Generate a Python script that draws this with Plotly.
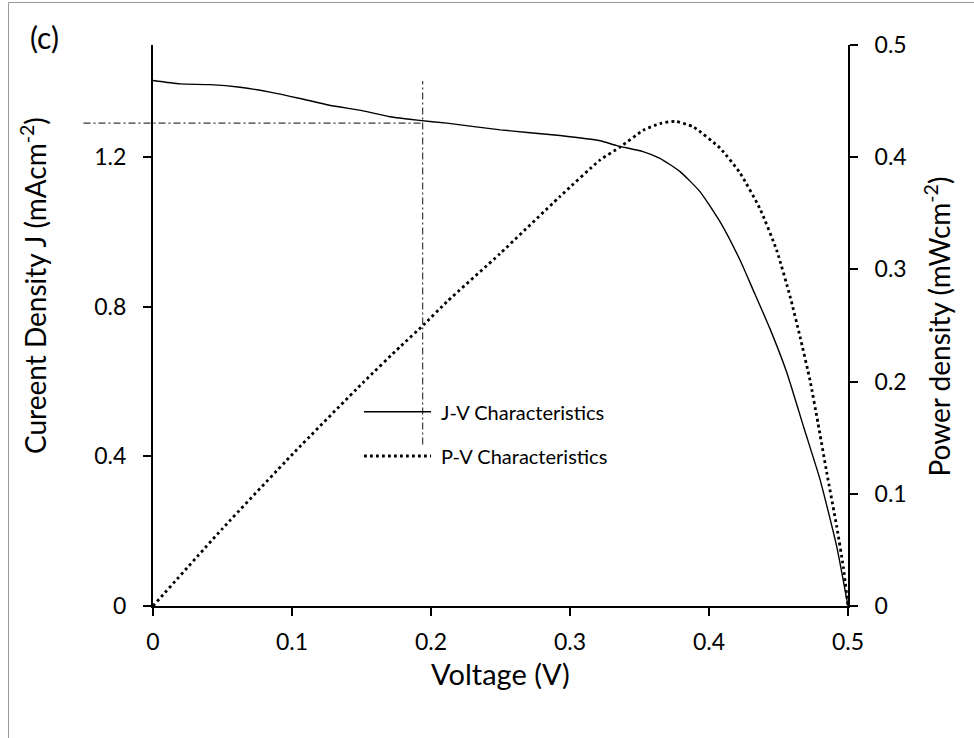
import plotly.graph_objects as go

# ---- measured J-V characteristic (voltage in V, current density in mA/cm^2)
jv_voltage = [0.0, 0.0194, 0.041, 0.0626, 0.0842, 0.1058, 0.127, 0.151, 0.1705,
              0.19, 0.2115, 0.25, 0.2928, 0.3216, 0.3336, 0.3525, 0.3647, 0.379,
              0.3935, 0.408, 0.4223, 0.4314, 0.4439, 0.4559, 0.4686,
              0.4799, 0.4919, 0.5]
jv_current = [1.405, 1.396, 1.394, 1.387, 1.374, 1.357, 1.339, 1.324, 1.308,
              1.299, 1.291, 1.273, 1.258, 1.244, 1.231, 1.215, 1.197, 1.162,
              1.108, 1.027, 0.925, 0.848, 0.741, 0.625, 0.4725,
              0.338, 0.159, 0.0]

# ---- measured P-V characteristic (voltage in V, power density in mW/cm^2)
pv_voltage = [0.0, 0.05, 0.1009, 0.151, 0.1777, 0.1945, 0.2113, 0.2496, 0.2928,
              0.3216, 0.336, 0.3527, 0.3647, 0.3755, 0.3887, 0.408,
              0.4223, 0.4367, 0.4487, 0.4583, 0.4655, 0.4727, 0.4784, 0.4847,
              0.4919, 0.4966, 0.5]
pv_power = [0.0, 0.069, 0.136, 0.199, 0.231, 0.2504, 0.271, 0.314, 0.365,
            0.3975, 0.409, 0.424, 0.430, 0.432, 0.427, 0.408,
            0.386, 0.354, 0.317, 0.276, 0.240, 0.201, 0.163, 0.119,
            0.0707, 0.035, 0.0]

# ---- reference marker lines (operating point)
v_marker = 0.194
j_marker = 1.291
v_marker_left = -0.05
j_marker_span = [0.432, 1.404]

# ---- axis settings
x_range = [0, 0.5]
x_ticks = [0, 0.1, 0.2, 0.3, 0.4, 0.5]
x_ticktext = ["0", "0.1", "0.2", "0.3", "0.4", "0.5"]
j_range = [0, 1.5]
j_ticks = [0, 0.4, 0.8, 1.2]
j_ticktext = ["0", "0.4", "0.8", "1.2"]
p_range = [0, 0.5]
p_ticks = [0, 0.1, 0.2, 0.3, 0.4, 0.5]
p_ticktext = ["0", "0.1", "0.2", "0.3", "0.4", "0.5"]

series_names = ["J-V Characteristics", "P-V Characteristics"]
x_title = "Voltage (V)"
j_title = "Cureent Density J (mAcm<sup>-2</sup>)"
p_title = "Power density (mWcm<sup>-2</sup>)"
panel_label = "(c)"

FONT = "Lato, 'Open Sans', sans-serif"
W, H = 974, 738
L, R, T, B = 153, 126, 45, 132
PW, PH = W - L - R, H - T - B


def px_x(px):
    return (px - L) / PW


def px_y(py):
    return (H - B - py) / PH


fig = go.Figure()

fig.add_trace(go.Scatter(
    x=jv_voltage, y=jv_current, name=series_names[0], mode="lines",
    line=dict(color="black", width=1.4, shape="spline", smoothing=0.5),
    yaxis="y", showlegend=False,
))
fig.add_trace(go.Scatter(
    x=pv_voltage, y=pv_power, name=series_names[1], mode="lines",
    line=dict(color="black", width=2.8, dash="2.8px,3.2px",
              shape="spline", smoothing=0.5),
    yaxis="y2", showlegend=False,
))

axis_common = dict(
    showline=True, linecolor="black", linewidth=2,
    ticks="outside", ticklen=8, tickwidth=1.5, tickcolor="black",
    showgrid=False, zeroline=False,
    tickfont=dict(family=FONT, size=23, color="black"),
)

fig.update_layout(
    width=W, height=H, autosize=False,
    margin=dict(l=L, r=R, t=T, b=B, pad=0),
    paper_bgcolor="white", plot_bgcolor="white",
    font=dict(family=FONT, color="black"),
    xaxis=dict(range=x_range, tickvals=x_ticks, ticktext=x_ticktext,
               ticklabelstandoff=6, **axis_common),
    yaxis=dict(range=j_range, tickvals=j_ticks, ticktext=j_ticktext,
               ticklabelstandoff=12, **axis_common),
    yaxis2=dict(range=p_range, tickvals=p_ticks, ticktext=p_ticktext,
                overlaying="y", side="right", anchor="x",
                ticklabelstandoff=12, **axis_common),
    showlegend=False,
)

# operating-point guide lines
guide = dict(color="#3a3a3a", width=1.2, dash="7px,3px,2px,3px")
fig.add_shape(type="line", xref="paper", yref="y",
              x0=v_marker_left / x_range[1], x1=v_marker / x_range[1],
              y0=j_marker, y1=j_marker, line=guide, layer="above")
fig.add_shape(type="line", xref="x", yref="y",
              x0=v_marker, x1=v_marker,
              y0=j_marker_span[0], y1=j_marker_span[1], line=guide, layer="above")

# outer frame (partly visible)
frame = dict(color="#9a9a9a", width=1)
fig.add_shape(type="line", xref="paper", yref="paper",
              x0=px_x(8.5), x1=px_x(W + 5), y0=px_y(2.5), y1=px_y(2.5), line=frame)
fig.add_shape(type="line", xref="paper", yref="paper",
              x0=px_x(8.5), x1=px_x(8.5), y0=px_y(2.5), y1=px_y(H + 5), line=frame)

# legend drawn inside the plot
leg_rows = [(411.7, dict(color="black", width=1.4)),
            (456.0, dict(color="black", width=2.8, dash="2.8px,3.2px"))]
for (ypx, style), name in zip(leg_rows, series_names):
    fig.add_shape(type="line", xref="paper", yref="paper",
                  x0=px_x(364), x1=px_x(431), y0=px_y(ypx), y1=px_y(ypx),
                  line=style)
    fig.add_annotation(text=name, xref="paper", yref="paper",
                       x=px_x(439), y=px_y(ypx), xanchor="left", yanchor="middle",
                       showarrow=False, font=dict(family=FONT, size=20, color="black"))

# axis titles and panel label
fig.add_annotation(text=x_title, xref="paper", yref="paper",
                   x=0.5, y=px_y(674), xanchor="center", yanchor="middle",
                   showarrow=False, font=dict(family=FONT, size=29, color="black"))
fig.add_annotation(text=j_title, xref="paper", yref="paper",
                   x=px_x(33), y=px_y(286), xanchor="center", yanchor="middle",
                   textangle=-90, showarrow=False,
                   font=dict(family=FONT, size=28, color="black"))
fig.add_annotation(text=p_title, xref="paper", yref="paper",
                   x=px_x(937.5), y=px_y(326), xanchor="center", yanchor="middle",
                   textangle=-90, showarrow=False,
                   font=dict(family=FONT, size=28, color="black"))
fig.add_annotation(text=panel_label, xref="paper", yref="paper",
                   x=px_x(44), y=px_y(37), xanchor="center", yanchor="middle",
                   showarrow=False, font=dict(family=FONT, size=30, color="black"))

fig.write_html("out.html")
